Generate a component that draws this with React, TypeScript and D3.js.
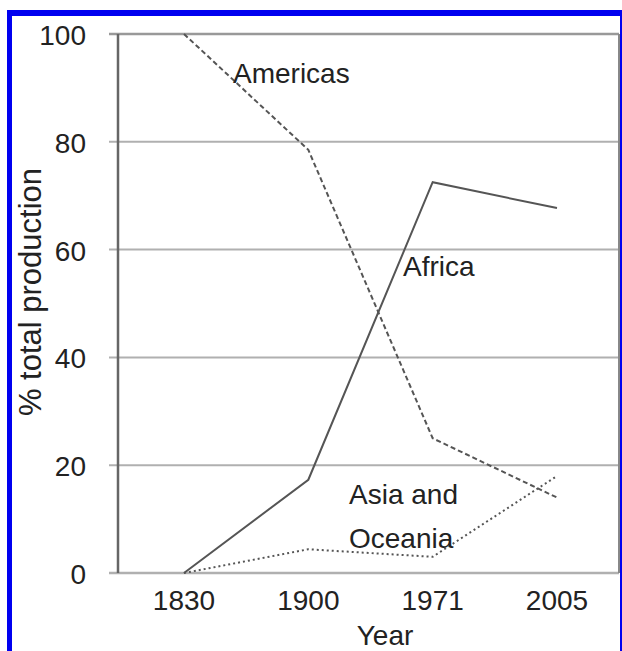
import React from "react";
import * as d3 from "d3";

const years = ["1830", "1900", "1971", "2005"];
const americas = [100, 78.5, 25, 14];
const africa = [0, 17.3, 72.5, 67.7];
const asiaOceania = [0, 4.4, 3, 18];
const yTicks = [0, 20, 40, 60, 80, 100];

const W = 622;
const H = 651;
const left = 118;
const right = 619;
const top = 34;
const bottom = 573;

export default function App() {
  const x = d3.scalePoint<string>().domain(years).range([184, 557]);
  const y = d3.scaleLinear().domain([0, 100]).range([bottom, top]);
  const line = d3
    .line<number>()
    .x((_, i) => x(years[i]) as number)
    .y((d) => y(d));
  const font = "'Liberation Sans', Arial, sans-serif";
  const textCol = "#222";
  const lineCol = "#555";
  const fs = 28;
  return (
    <svg
      width={W}
      height={H}
      style={{ position: "absolute", left: 0, top: 0, background: "#fff" }}
      fontFamily={font}
    >
      <rect x={0} y={0} width={W} height={H} fill="#fff" />
      {/* blue frame */}
      <rect x={7} y={10} width={W - 7} height={6} fill="#0000f0" />
      <rect x={7} y={10} width={5} height={H - 10} fill="#0000f0" />
      <rect x={620} y={10} width={2} height={H - 10} fill="#0000f0" />

      {/* gridlines */}
      {yTicks.map((t) => (
        <line
          key={t}
          x1={left - 9}
          x2={right}
          y1={y(t)}
          y2={y(t)}
          stroke={t === 100 ? "#999" : "#b0b0b0"}
          strokeWidth={t === 100 || t === 0 ? 2.5 : 2}
        />
      ))}
      <line x1={left} x2={left} y1={top} y2={bottom} stroke="#666" strokeWidth={2.5} />
      <line x1={right} x2={right} y1={top} y2={bottom} stroke="#888" strokeWidth={2} />

      {/* y tick labels */}
      {yTicks.map((t) => (
        <text key={t} x={86} y={y(t) + 11} textAnchor="end" fontSize={fs} fill={textCol}>
          {t}
        </text>
      ))}
      {/* x tick labels */}
      {years.map((yr) => (
        <text key={yr} x={x(yr) as number} y={610} textAnchor="middle" fontSize={fs} fill={textCol}>
          {yr}
        </text>
      ))}
      <text x={385} y={645} textAnchor="middle" fontSize={fs} fill={textCol}>
        Year
      </text>
      <text
        transform="translate(41,292) rotate(-90)"
        textAnchor="middle"
        fontSize={31}
        fill={textCol}
      >
        % total production
      </text>

      {/* series */}
      <path d={line(americas) || ""} fill="none" stroke={lineCol} strokeWidth={2} strokeDasharray="5,3" />
      <path d={line(africa) || ""} fill="none" stroke={lineCol} strokeWidth={2} />
      <path d={line(asiaOceania) || ""} fill="none" stroke={lineCol} strokeWidth={2} strokeDasharray="2,3" />

      {/* labels */}
      <text x={233} y={83} fontSize={fs} fill={textCol}>
        Americas
      </text>
      <text x={403} y={276} fontSize={fs} fill={textCol}>
        Africa
      </text>
      <text x={349} y={504} fontSize={fs} fill={textCol}>
        Asia and
      </text>
      <text x={349} y={548} fontSize={fs} fill={textCol}>
        Oceania
      </text>
    </svg>
  );
}
